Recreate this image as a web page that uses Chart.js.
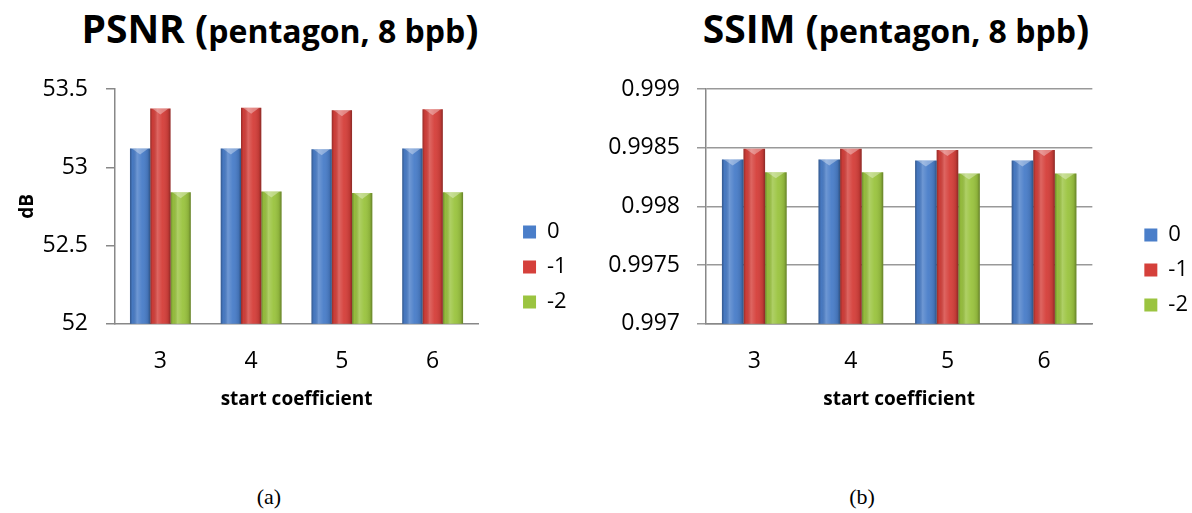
<!DOCTYPE html>
<html>
<head>
<meta charset="utf-8">
<script src="https://cdn.jsdelivr.net/npm/chart.js@4.4.0/dist/chart.umd.min.js"></script>
<style>
  body { margin: 0; background: #fff; width: 1192px; height: 513px; position: relative; overflow: hidden; font-family: 'Open Sans', sans-serif; }
  .ttl { position: absolute; top: 3px; width: 400px; line-height: 50px; font-weight: bold; font-size: 39px; text-align: center; white-space: nowrap; color: #000; }
  .ttl span { font-size: 32px; }
  .cap { position: absolute; top: 484px; width: 60px; line-height: 26px; font-family: 'Liberation Serif', serif; font-size: 22px; text-align: center; }
  .box { position: absolute; top: 0; height: 470px; }
</style>
</head>
<body>
<div class="ttl" style="left:80px">PSNR (<span>pentagon, 8 bpb</span>)</div>
<div class="ttl" style="left:696px">SSIM (<span>pentagon, 8 bpb</span>)</div>
<div class="box" style="left:0;width:600px"><canvas id="psnrChart"></canvas></div>
<div class="box" style="left:590px;width:610px"><canvas id="ssimChart"></canvas></div>
<div class="cap" style="left:239px">(a)</div>
<div class="cap" style="left:832px">(b)</div>

<script>
var categories = ['3', '4', '5', '6'];
var seriesNames = ['0', '-1', '-2'];

var psnr0 = [53.12, 53.12, 53.115, 53.12];
var psnr1 = [53.375, 53.38, 53.365, 53.37];
var psnr2 = [52.84, 52.845, 52.835, 52.84];

var ssim0 = [0.9984, 0.9984, 0.99839, 0.99839];
var ssim1 = [0.99849, 0.99849, 0.99848, 0.99848];
var ssim2 = [0.99829, 0.99829, 0.99828, 0.99828];

var colors = ['#4a7ec9', '#d5403b', '#9bc440'];

Chart.defaults.font.family = "'Open Sans', sans-serif";
Chart.defaults.color = '#000';

// 3d-ish shading and a small bevel on top of each bar
var shade = {
  id: 'shade',
  afterDatasetsDraw: function(chart) {
    var ctx = chart.ctx;
    var bottom = chart.chartArea.bottom;
    chart.data.datasets.forEach(function(ds, i) {
      var meta = chart.getDatasetMeta(i);
      meta.data.forEach(function(bar) {
        var l = bar.x - bar.width / 2, r = bar.x + bar.width / 2;
        var g = ctx.createLinearGradient(l, 0, r, 0);
        g.addColorStop(0, 'rgba(0,0,0,0.30)');
        g.addColorStop(0.12, 'rgba(0,0,0,0.04)');
        g.addColorStop(0.35, 'rgba(255,255,255,0.20)');
        g.addColorStop(0.6, 'rgba(255,255,255,0.04)');
        g.addColorStop(0.88, 'rgba(0,0,0,0.10)');
        g.addColorStop(1, 'rgba(0,0,0,0.35)');
        ctx.save();
        ctx.fillStyle = g;
        ctx.fillRect(l, bar.y, bar.width, Math.min(bar.base, bottom) - bar.y);
        ctx.fillStyle = 'rgba(255,255,255,0.35)';
        ctx.beginPath();
        ctx.moveTo(l + 2, bar.y);
        ctx.lineTo(r - 2, bar.y);
        ctx.lineTo(bar.x, bar.y + 6);
        ctx.closePath();
        ctx.fill();
        ctx.restore();
      });
    });
  }
};

function makeDatasets(a, b, c) {
  return [a, b, c].map(function(d, i) {
    return {
      label: seriesNames[i],
      data: d,
      backgroundColor: colors[i],
      borderWidth: 0,
      categoryPercentage: 0.67,
      barPercentage: 1.0
    };
  });
}

function makeChart(id, datasets, yOpts, gap, pad, titleBottom) {
  return new Chart(document.getElementById(id), {
    type: 'bar',
    data: { labels: categories, datasets: datasets },
    plugins: [shade],
    options: {
      responsive: true,
      maintainAspectRatio: false,
      animation: false,
      events: [],
      layout: { padding: pad },
      plugins: {
        tooltip: { enabled: false },
        legend: {
          position: 'right',
          labels: { boxWidth: 13, boxHeight: 13, padding: 13, font: { size: 22 }, color: '#000' }
        }
      },
      scales: {
        x: {
          grid: { drawOnChartArea: false, drawTicks: false },
          border: { color: '#888', width: 1.5 },
          ticks: { padding: 24, font: { size: 23 }, color: '#000' },
          title: { display: true, text: 'start coefficient', font: { size: 19, weight: 'bold' }, color: '#000', padding: { top: -11, bottom: titleBottom } }
        },
        y: yOpts,
        pad: {
          position: 'right',
          display: true,
          grid: { display: false },
          border: { display: false },
          ticks: { display: false },
          afterFit: function(s) { s.width = gap; }
        }
      }
    }
  });
}

makeChart('psnrChart', makeDatasets(psnr0, psnr1, psnr2), {
  min: 52, max: 53.5,
  ticks: { stepSize: 0.5, padding: 18, font: { size: 23 }, color: '#000',
    callback: function(v) { return String(+v.toFixed(2)); } },
  grid: { drawOnChartArea: false, tickLength: 9, color: '#888', lineWidth: 1.5 },
  border: { color: '#888', width: 1.5 },
  title: { display: true, text: 'dB', font: { size: 19, weight: 'bold' }, color: '#000', padding: 4 },
  afterFit: function(s) { s.width = 102.4; }
}, 32, { left: 12.6, top: 89, right: 23.3, bottom: 25 }, 33.8);

makeChart('ssimChart', makeDatasets(ssim0, ssim1, ssim2), {
  min: 0.997, max: 0.999,
  ticks: { stepSize: 0.0005, padding: 17, font: { size: 23 }, color: '#000',
    callback: function(v) { return String(+v.toFixed(4)); } },
  grid: { tickLength: 9, color: '#999', lineWidth: 1.5 },
  border: { color: '#888', width: 1.5 },
  afterFit: function(s) { s.width = 106; }
}, 39, { left: 10, top: 89, right: 2, bottom: 19 }, 39.8);
</script>
</body>
</html>
